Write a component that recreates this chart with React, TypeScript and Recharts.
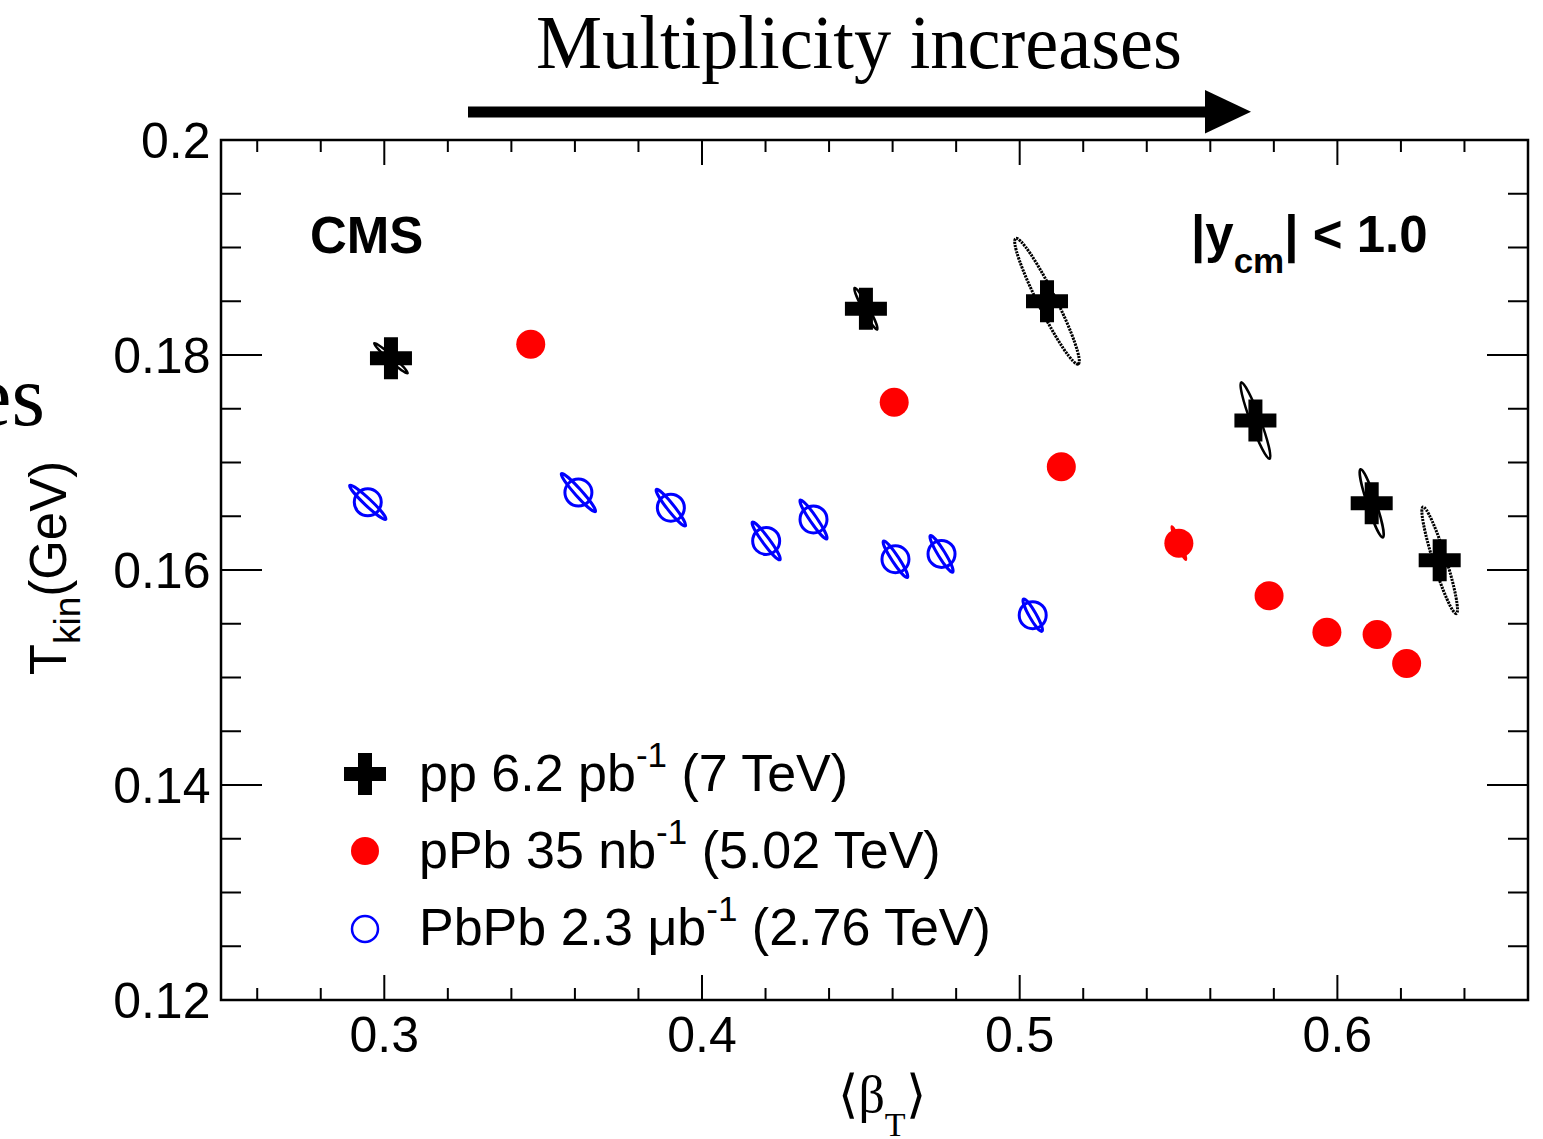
import React from 'react';
import { ScatterChart, Scatter, XAxis, YAxis, ReferenceArea } from 'recharts';

// ---------- data ----------
const ppX = [0.3021, 0.4516, 0.5086, 0.5742, 0.6108, 0.6322];
const ppY = [0.1797, 0.1843, 0.1850, 0.1739, 0.1662, 0.1609];
// 1-sigma contour of each fit: sigma x, sigma y (data units), correlation
const ppSx = [0.00528, 0.00365, 0.01017, 0.00471, 0.00377, 0.00561];
const ppSy = [0.00141, 0.00194, 0.00585, 0.00356, 0.00318, 0.00496];
const ppRho = [-0.975, -0.956, -0.95, -0.935, -0.919, -0.924];

const pPbX = [0.3461, 0.4605, 0.5131, 0.5501, 0.5785, 0.5967, 0.6125, 0.6218];
const pPbY = [0.181, 0.1756, 0.1696, 0.1625, 0.1576, 0.1542, 0.154, 0.1513];
const pPbSx = [0, 0, 0, 0.00228, 0, 0, 0, 0];
const pPbSy = [0, 0, 0, 0.00155, 0, 0, 0, 0];
const pPbRho = [0, 0, 0, -0.954, 0, 0, 0, 0];

const pbpbX = [0.2948, 0.3611, 0.3902, 0.4202, 0.4351, 0.4609, 0.4754, 0.5041];
const pbpbY = [0.1663, 0.1672, 0.1658, 0.1627, 0.1647, 0.161, 0.1615, 0.1558];
const pbpbSx = [0.00572, 0.00541, 0.00465, 0.00444, 0.00428, 0.00389, 0.00365, 0.00305];
const pbpbSy = [0.0016, 0.00178, 0.00171, 0.00176, 0.00182, 0.00171, 0.00171, 0.00151];
const pbpbRho = [-0.961, -0.963, -0.954, -0.952, -0.951, -0.942, -0.936, -0.911];

const xTicks = [0.26, 0.28, 0.3, 0.32, 0.34, 0.36, 0.38, 0.4, 0.42, 0.44, 0.46, 0.48, 0.5, 0.52, 0.54, 0.56, 0.58, 0.6, 0.62, 0.64];
const xMajorTicks = [0.3, 0.4, 0.5, 0.6];
const yTicks = [0.12, 0.125, 0.13, 0.135, 0.14, 0.145, 0.15, 0.155, 0.16, 0.165, 0.17, 0.175, 0.18, 0.185, 0.19, 0.195, 0.2];
const yMajorTicks = [0.12, 0.14, 0.16, 0.18, 0.2];

const legendLabels = [
  { main: 'pp 6.2 pb', sup: '-1', tail: ' (7 TeV)' },
  { main: 'pPb 35 nb', sup: '-1', tail: ' (5.02 TeV)' },
  { main: 'PbPb 2.3 \u03bcb', sup: '-1', tail: ' (2.76 TeV)' },
];

// ---------- layout ----------
const X_MIN = 0.2486;
const X_MAX = 0.66;
const Y_MIN = 0.12;
const Y_MAX = 0.2;
const CHART_W = 1543;
const CHART_H = 1139;
const PLOT_LEFT = 221;
const PLOT_TOP = 140;
const PLOT_RIGHT = 1528;
const PLOT_BOTTOM = 1000;
const PLOT_W = PLOT_RIGHT - PLOT_LEFT;
const PLOT_H = PLOT_BOTTOM - PLOT_TOP;
const Y_AXIS_W = 60;
const X_AXIS_H = 40;

const SANS = '"Liberation Sans", Arial, Helvetica, sans-serif';
const SERIF = '"Liberation Serif", "Times New Roman", Times, serif';
const RED = '#ff0000';
const BLUE = '#0000ff';

const build = (xs: number[], ys: number[], sx: number[], sy: number[], rho: number[]) =>
  xs.map((x, i) => ({ x, y: ys[i], sx: sx[i], sy: sy[i], rho: rho[i] }));

const ppData = build(ppX, ppY, ppSx, ppSy, ppRho);
const pPbData = build(pPbX, pPbY, pPbSx, pPbSy, pPbRho);
const pbpbData = build(pbpbX, pbpbY, pbpbSx, pbpbSy, pbpbRho);

const isMajor = (v: number, majors: number[]) => majors.some((m) => Math.abs(m - v) < 1e-9);

function ellipseEl(cx: number, cy: number, p: any, stroke: string, width: number) {
  if (!p || !p.sx || !p.sy) return null;
  const kx = PLOT_W / (X_MAX - X_MIN);
  const ky = PLOT_H / (Y_MAX - Y_MIN);
  const a = (p.sx * kx) ** 2;
  const c = (p.sy * ky) ** 2;
  const b = -p.rho * p.sx * kx * p.sy * ky; // y axis flipped in pixels
  const mid = (a + c) / 2;
  const d = Math.sqrt(((a - c) / 2) ** 2 + b * b);
  const rx = Math.sqrt(mid + d);
  const ry = Math.sqrt(Math.max(mid - d, 0.5));
  const ang = (0.5 * Math.atan2(2 * b, a - c) * 180) / Math.PI;
  const dotted = rx > 50;
  return (
    <ellipse
      cx={cx}
      cy={cy}
      rx={rx}
      ry={ry}
      transform={`rotate(${ang} ${cx} ${cy})`}
      fill="none"
      stroke={stroke}
      strokeWidth={dotted ? width + 0.5 : width}
      strokeDasharray={dotted ? '2.2 1' : undefined}
    />
  );
}

const crossPath = (cx: number, cy: number, h = 21, t = 7) =>
  `M${cx - t},${cy - h} h${2 * t} v${h - t} h${h - t} v${2 * t} h${-(h - t)} v${h - t} h${-2 * t} v${-(h - t)} h${-(h - t)} v${-2 * t} h${h - t} z`;

const PpShape = (props: any) => {
  const { cx, cy, payload } = props;
  return (
    <g>
      {ellipseEl(cx, cy, payload, '#000', 2.5)}
      <path d={crossPath(cx, cy)} fill="#000" />
    </g>
  );
};

const PPbShape = (props: any) => {
  const { cx, cy, payload } = props;
  return (
    <g>
      {ellipseEl(cx, cy, payload, RED, 2.5)}
      <circle cx={cx} cy={cy} r={14.5} fill={RED} />
    </g>
  );
};

const PbPbShape = (props: any) => {
  const { cx, cy, payload } = props;
  return (
    <g>
      {ellipseEl(cx, cy, payload, BLUE, 3)}
      <circle cx={cx} cy={cy} r={13.5} fill="none" stroke={BLUE} strokeWidth={3} />
    </g>
  );
};

const XTick = (props: any) => {
  const { x, y, payload } = props;
  const v = payload.value;
  const major = isMajor(v, xMajorTicks);
  const len = major ? 25 : 12;
  return (
    <g>
      <line x1={x} x2={x} y1={y} y2={y - len} stroke="#000" strokeWidth={2} />
      <line x1={x} x2={x} y1={y - PLOT_H} y2={y - PLOT_H + len} stroke="#000" strokeWidth={2} />
      {major && (
        <text x={x} y={y + 52} textAnchor="middle" fontSize={50} fontFamily={SANS} fill="#000">
          {String(v)}
        </text>
      )}
    </g>
  );
};

const YTick = (props: any) => {
  const { x, y, payload } = props;
  const v = payload.value;
  const major = isMajor(v, yMajorTicks);
  const len = major ? 41 : 20;
  return (
    <g>
      <line x1={x} x2={x + len} y1={y} y2={y} stroke="#000" strokeWidth={2} />
      <line x1={x + PLOT_W} x2={x + PLOT_W - len} y1={y} y2={y} stroke="#000" strokeWidth={2} />
      {major && (
        <text x={x - 10.5} y={y + 18} textAnchor="end" fontSize={50} fontFamily={SANS} fill="#000">
          {String(v)}
        </text>
      )}
    </g>
  );
};

const Overlay = () => (
  <svg
    width={CHART_W}
    height={CHART_H}
    style={{ position: 'absolute', left: 0, top: 0, pointerEvents: 'none' }}
  >
    {/* header */}
    <text x={536} y={68} fontSize={77} fontFamily={SERIF} textLength={646} lengthAdjust="spacingAndGlyphs" fill="#000">
      Multiplicity increases
    </text>
    <rect x={468} y={106.5} width={740} height={11} fill="#000" />
    <polygon points="1205,90 1251,111.8 1205,133.5" fill="#000" />
    <text x={45} y={425} textAnchor="end" fontSize={86} fontFamily={SERIF} fill="#000">
      es
    </text>

    {/* in-plot labels */}
    <text x={310} y={253} fontSize={51} fontWeight="bold" fontFamily={SANS} fill="#000">
      CMS
    </text>
    <text x={1191} y={252} fontSize={51} fontWeight="bold" fontFamily={SANS} fill="#000">
      |y
      <tspan dy={21} fontSize={35}>cm</tspan>
      <tspan dy={-21}>| &lt; 1.0</tspan>
    </text>

    {/* axis titles */}
    <text
      x={66}
      y={568}
      transform="rotate(-90 66 568)"
      textAnchor="middle"
      fontSize={51}
      fontFamily={SANS}
      fill="#000"
    >
      T<tspan dy={14} fontSize={37}>kin</tspan>
      <tspan dy={-14}>(GeV)</tspan>
    </text>
    <text x={882} y={1112} textAnchor="middle" fontSize={52} fontFamily={SERIF} fill="#000">
      {'\u27e8\u03b2'}
      <tspan dy={24} fontSize={34}>T</tspan>
      <tspan dy={-24}>{'\u27e9'}</tspan>
    </text>

    {/* legend */}
    <path d={crossPath(365, 774)} fill="#000" />
    <circle cx={365} cy={851} r={14} fill={RED} />
    <circle cx={365} cy={929} r={13} fill="none" stroke={BLUE} strokeWidth={2.5} />
    {legendLabels.map((l, i) => (
      <text key={i} x={419} y={791 + i * 77} fontSize={52} fontFamily={SANS} fill="#000">
        {l.main}
        <tspan dy={-24} fontSize={35}>{l.sup}</tspan>
        <tspan dy={24}>{l.tail}</tspan>
      </text>
    ))}
  </svg>
);

export default function App() {
  return (
    <div style={{ position: 'absolute', left: 0, top: 0, width: CHART_W, height: CHART_H, background: '#fff' }}>
      <ScatterChart
        width={CHART_W}
        height={CHART_H}
        margin={{
          top: PLOT_TOP,
          right: CHART_W - PLOT_RIGHT,
          bottom: CHART_H - PLOT_BOTTOM - X_AXIS_H,
          left: PLOT_LEFT - Y_AXIS_W,
        }}
      >
        <XAxis
          type="number"
          dataKey="x"
          domain={[X_MIN, X_MAX]}
          allowDataOverflow
          ticks={xTicks}
          interval={0}
          height={X_AXIS_H}
          tickSize={0}
          tickMargin={0}
          axisLine={false}
          tickLine={false}
          tick={<XTick />}
        />
        <YAxis
          type="number"
          dataKey="y"
          domain={[Y_MIN, Y_MAX]}
          allowDataOverflow
          ticks={yTicks}
          interval={0}
          width={Y_AXIS_W}
          tickSize={0}
          tickMargin={0}
          axisLine={false}
          tickLine={false}
          tick={<YTick />}
        />
        <ReferenceArea
          x1={X_MIN}
          x2={X_MAX}
          y1={Y_MIN}
          y2={Y_MAX}
          fill="none"
          fillOpacity={0}
          stroke="#000"
          strokeWidth={2.5}
          strokeOpacity={1}
        />
        <Scatter name="PbPb" data={pbpbData} shape={(p: any) => <PbPbShape {...p} />} isAnimationActive={false} />
        <Scatter name="pPb" data={pPbData} shape={(p: any) => <PPbShape {...p} />} isAnimationActive={false} />
        <Scatter name="pp" data={ppData} shape={(p: any) => <PpShape {...p} />} isAnimationActive={false} />
      </ScatterChart>
      <Overlay />
    </div>
  );
}
